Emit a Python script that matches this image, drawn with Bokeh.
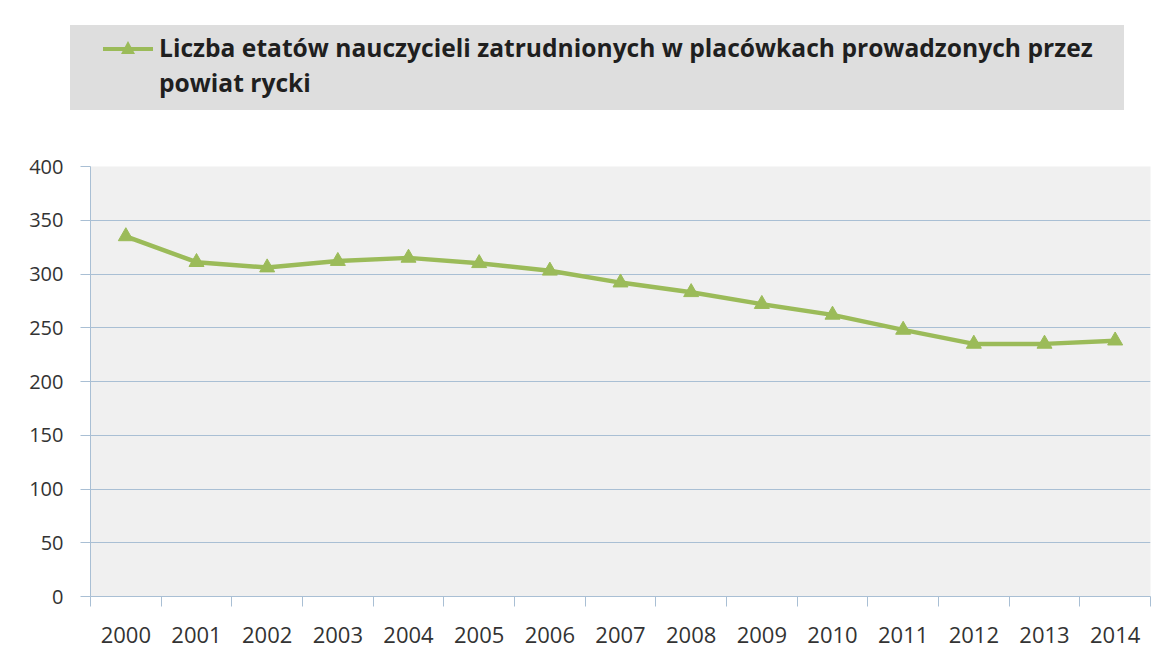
from bokeh.plotting import figure
from bokeh.models import Range1d, FixedTicker, Div
from bokeh.layouts import column
from bokeh.embed import file_html
from bokeh.resources import INLINE
import numpy as np

years = ["2000", "2001", "2002", "2003", "2004", "2005", "2006", "2007",
         "2008", "2009", "2010", "2011", "2012", "2013", "2014"]
etaty = [335, 311, 306, 312, 315, 310, 303, 292, 283, 272, 262, 248, 235, 235, 238]
y_ticks = [0, 50, 100, 150, 200, 250, 300, 350, 400]
series_name_lines = ["Liczba etatów nauczycieli zatrudnionych w placówkach prowadzonych przez",
                     "powiat rycki"]

GREEN = "#9bbb59"
GRID = "#a9bfd4"
TXT = "#333333"
FONT = "Open Sans"
W = 1166

# ---- legend strip (HTML) ----
legend_html = f"""
<div style="position:relative;width:{W}px;height:148px;background:white;">
  <div style="position:absolute;left:70px;top:25px;width:1054px;height:85px;background:#dedede;"></div>
  <svg style="position:absolute;left:100px;top:39px;" width="56" height="20">
    <line x1="3" y1="10" x2="53" y2="10" stroke="{GREEN}" stroke-width="4"/>
    <polygon points="28,2 35,15 21,15" fill="{GREEN}"/>
  </svg>
  <div style="position:absolute;left:159px;top:30px;font-family:'{FONT}';font-weight:bold;
              font-size:24.6px;line-height:35px;color:#1f1f1f;white-space:nowrap;">
    {series_name_lines[0]}<br>{series_name_lines[1]}
  </div>
</div>
"""
top = Div(text=legend_html, width=W, height=148, margin=0)

# ---- main chart ----
n = len(years)
xs = np.arange(n) + 0.5
p = figure(width=W, height=520, x_range=Range1d(0, n), y_range=Range1d(0, 400),
           toolbar_location=None, output_backend="svg",
           min_border_left=90, min_border_right=16, min_border_top=18, min_border_bottom=72)
p.background_fill_color = "#f0f0f0"
p.border_fill_color = "white"
p.outline_line_color = None
p.xgrid.visible = False
p.ygrid.ticker = FixedTicker(ticks=y_ticks)
p.ygrid.grid_line_color = GRID
p.ygrid.grid_line_width = 1

p.yaxis.ticker = FixedTicker(ticks=y_ticks)
p.yaxis.axis_line_color = GRID
p.yaxis.major_tick_line_color = GRID
p.yaxis.major_tick_out = 10
p.yaxis.major_tick_in = 0
p.yaxis.minor_tick_line_color = None
p.yaxis.major_label_standoff = 17
p.yaxis.major_label_text_font = FONT
p.yaxis.major_label_text_font_size = "20px"
p.yaxis.major_label_text_color = TXT

p.xaxis.ticker = FixedTicker(ticks=list(xs), minor_ticks=list(range(n + 1)))
p.xaxis.major_label_overrides = {float(x): y for x, y in zip(xs, years)}
p.xaxis.axis_line_color = GRID
p.xaxis.major_tick_line_color = None
p.xaxis.minor_tick_line_color = GRID
p.xaxis.minor_tick_out = 10
p.xaxis.minor_tick_in = 0
p.xaxis.major_label_standoff = 20
p.xaxis.major_label_text_font = FONT
p.xaxis.major_label_text_font_size = "22px"
p.xaxis.major_label_text_color = TXT

p.line(xs, etaty, line_color=GREEN, line_width=4.5)
p.scatter(xs, etaty, marker="triangle", size=15, fill_color=GREEN, line_color=GREEN)

layout = column(top, p, spacing=0)
open("out.html", "w").write(file_html(layout, INLINE))
